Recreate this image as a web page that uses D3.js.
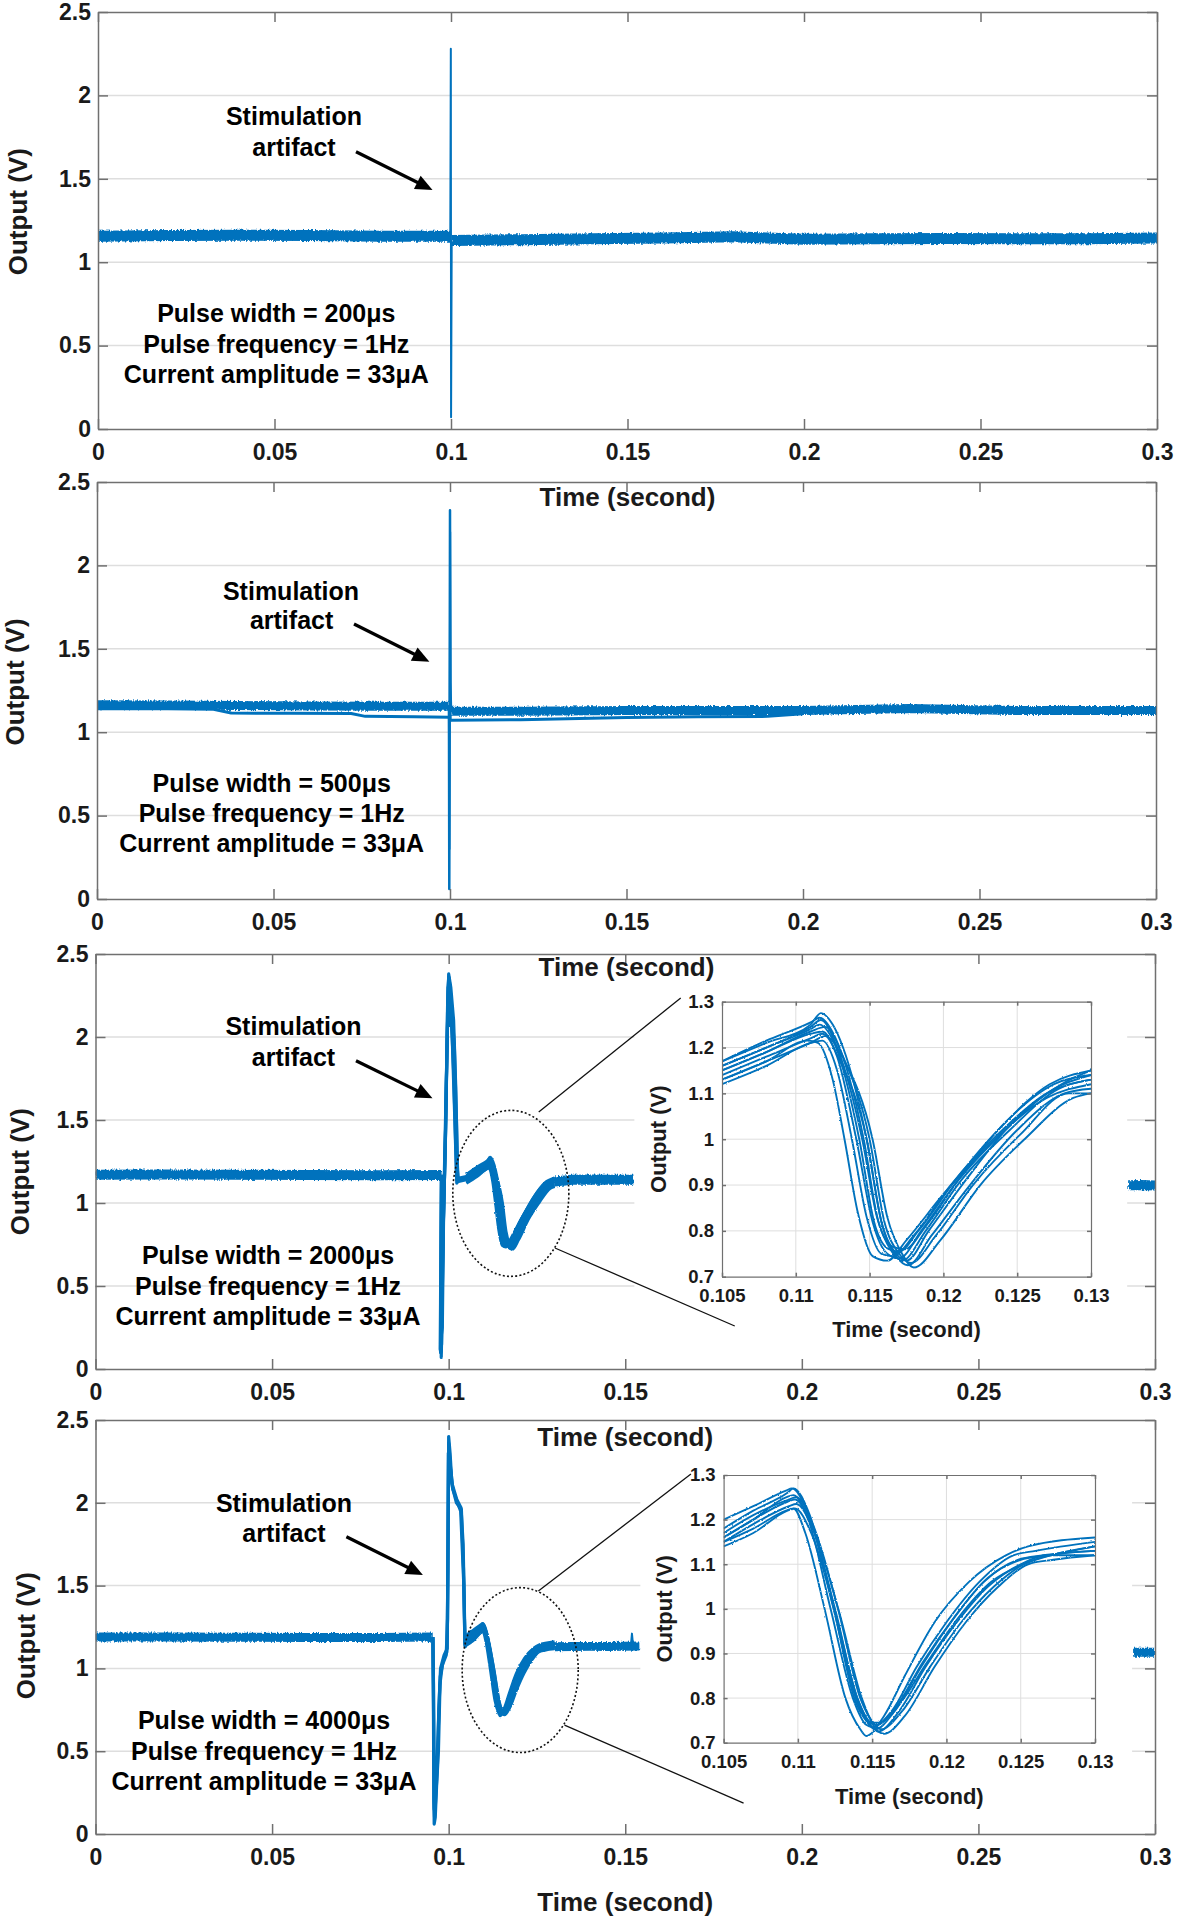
<!DOCTYPE html>
<html><head><meta charset="utf-8">
<script src="https://cdn.jsdelivr.net/npm/d3@7"></script>
<style>
body{margin:0;background:#fff;}
svg{display:block;}
</style></head><body>
<svg id="chart" width="1178" height="1920"></svg>
<script>
// ---------------- DATA ----------------
const xTickValues = [0, 0.05, 0.1, 0.15, 0.2, 0.25, 0.3];
const xTickLabels = ["0", "0.05", "0.1", "0.15", "0.2", "0.25", "0.3"];
const yTickValues = [0, 0.5, 1, 1.5, 2, 2.5];
const yTickLabels = ["0", "0.5", "1", "1.5", "2", "2.5"];
const insetXTickValues = [0.105, 0.11, 0.115, 0.12, 0.125, 0.13];
const insetXTickLabels = ["0.105", "0.11", "0.115", "0.12", "0.125", "0.13"];
const insetYTickValues = [0.7, 0.8, 0.9, 1.0, 1.1, 1.2, 1.3];
const insetYTickLabels = ["0.7", "0.8", "0.9", "1", "1.1", "1.2", "1.3"];
const xAxisTitle = "Time (second)";
const yAxisTitle = "Output (V)";
const pulseWidths = ["200μs", "500μs", "2000μs", "4000μs"];
const pulseFrequency = "1Hz";
const currentAmplitude = "33μA";
const artifactLabel = ["Stimulation", "artifact"];

// Panel 1 (200 us)
const p1BandPre = [[0,1.155],[0.02,1.16],[0.04,1.162],[0.06,1.16],[0.08,1.155],[0.0998,1.155]];
const p1BandPost = [[0.1002,1.13],[0.12,1.135],[0.14,1.14],[0.16,1.145],[0.18,1.152],[0.2,1.138],[0.22,1.14],[0.24,1.142],[0.26,1.14],[0.28,1.14],[0.3,1.145]];
const p1Spike = [[0.0998,1.155],[0.09995,2.28],[0.10002,0.07],[0.1002,1.13]];

// Panel 2 (500 us)
const p2BandPre = [[0,1.165],[0.02,1.163],[0.04,1.16],[0.06,1.157],[0.08,1.155],[0.0997,1.155]];
const p2LowerPre = [[0,1.14],[0.02,1.14],[0.033,1.138],[0.038,1.115],[0.055,1.113],[0.072,1.112],[0.076,1.095],[0.09,1.092],[0.0997,1.09]];
const p2BandPost = [[0.1003,1.125],[0.12,1.125],[0.15,1.13],[0.18,1.13],[0.2,1.13],[0.23,1.142],[0.26,1.13],[0.28,1.13],[0.3,1.13]];
const p2LowerPost = [[0.1003,1.072],[0.12,1.075],[0.15,1.088],[0.17,1.092],[0.19,1.095],[0.2,1.11]];
const p2SpikeA = [[0.0997,1.155],[0.0998,0.06],[0.0999,1.2],[0.1,2.33],[0.1001,1.3],[0.1003,1.12]];
const p2SpikeB = [[0.0997,1.09],[0.09985,0.3],[0.09995,1.1],[0.10005,2.2],[0.1002,1.07],[0.1004,1.072]];

// Panel 3 (2000 us)
const p3BandPre = [[0,1.17],[0.02,1.172],[0.04,1.17],[0.06,1.168],[0.08,1.167],[0.098,1.168]];
const p3ArtifactA = [[0.098,1.17],[0.0979,0.8],[0.0978,0.3],[0.0979,0.07],[0.0981,0.3],[0.0985,0.9],[0.099,1.3],[0.0995,1.9],[0.1,2.38],[0.1006,2.3],[0.1014,2.1],[0.102,1.7],[0.1024,1.3],[0.1026,1.13],[0.103,1.15],[0.105,1.16]];
const p3ArtifactB = [[0.098,1.16],[0.0978,0.5],[0.0977,0.1],[0.098,0.15],[0.0984,0.8],[0.0992,1.5],[0.0998,2.3],[0.1,2.35],[0.1004,2.07],[0.1008,2.1],[0.1014,1.8],[0.102,1.35],[0.1023,1.12],[0.103,1.14],[0.105,1.15]];
const p3ArtifactC = [[0.0981,1.16],[0.098,0.6],[0.0979,0.2],[0.0982,0.25],[0.0986,1.0],[0.0994,1.8],[0.0999,2.3],[0.1003,2.25],[0.101,2.0],[0.1016,1.6],[0.1021,1.25],[0.1023,1.14],[0.105,1.15]];
const p3ArtifactD = [[0.0979,1.17],[0.0977,0.4],[0.0976,0.12],[0.0978,0.1],[0.0983,0.7],[0.0991,1.4],[0.0997,2.2],[0.1001,2.36],[0.1007,2.22],[0.1016,1.95],[0.1022,1.5],[0.1025,1.2],[0.1028,1.13],[0.105,1.14]];
const p3TailLeft = [[0.13,1.13],[0.135,1.14],[0.14,1.142],[0.145,1.14],[0.1523,1.14]];
const p3TailRight = [[0.2924,1.107],[0.296,1.108],[0.3,1.106]];
const p3Responses = [
  [[0.105,1.13],[0.108,1.17],[0.1108,1.215],[0.1115,1.21],[0.1125,1.13],[0.1133,1.0],[0.1142,0.84],[0.1152,0.745],[0.1162,0.735],[0.1175,0.78],[0.12,0.88],[0.1235,1.0],[0.127,1.09],[0.13,1.12]],
  [[0.105,1.12],[0.108,1.16],[0.111,1.21],[0.1118,1.215],[0.1128,1.15],[0.1138,1.0],[0.1148,0.83],[0.1158,0.75],[0.1166,0.745],[0.118,0.79],[0.1205,0.9],[0.124,1.02],[0.127,1.1],[0.13,1.13]],
  [[0.105,1.15],[0.108,1.19],[0.111,1.23],[0.1118,1.235],[0.1128,1.18],[0.1141,1.0],[0.1152,0.82],[0.1162,0.75],[0.117,0.74],[0.1185,0.8],[0.121,0.91],[0.1242,1.02],[0.1275,1.11],[0.13,1.14]],
  [[0.105,1.16],[0.108,1.2],[0.111,1.245],[0.1117,1.26],[0.1128,1.2],[0.1145,1.0],[0.1155,0.83],[0.1165,0.755],[0.1172,0.735],[0.1188,0.8],[0.1212,0.91],[0.1245,1.02],[0.1278,1.11],[0.13,1.13]],
  [[0.105,1.17],[0.108,1.21],[0.111,1.25],[0.1117,1.275],[0.1125,1.25],[0.1132,1.2],[0.1148,1.0],[0.1158,0.82],[0.1168,0.75],[0.1175,0.735],[0.119,0.8],[0.1215,0.91],[0.1245,1.03],[0.128,1.12],[0.13,1.15]],
  [[0.105,1.14],[0.108,1.18],[0.111,1.22],[0.1118,1.23],[0.113,1.17],[0.1148,1.0],[0.1158,0.82],[0.1168,0.745],[0.1176,0.725],[0.1192,0.79],[0.1218,0.9],[0.125,1.02],[0.1282,1.1],[0.13,1.11]],
  [[0.105,1.15],[0.108,1.19],[0.111,1.235],[0.112,1.245],[0.1132,1.18],[0.115,1.0],[0.116,0.82],[0.117,0.75],[0.1178,0.73],[0.1195,0.79],[0.122,0.9],[0.1252,1.01],[0.1285,1.1],[0.13,1.1]],
  [[0.105,1.13],[0.108,1.17],[0.111,1.21],[0.112,1.225],[0.1133,1.17],[0.1152,1.0],[0.1162,0.83],[0.1172,0.75],[0.118,0.72],[0.1198,0.78],[0.1225,0.9],[0.1255,1.0],[0.1288,1.09],[0.13,1.1]],
  [[0.105,1.16],[0.108,1.2],[0.111,1.24],[0.1116,1.25],[0.1126,1.21],[0.1143,1.0],[0.1153,0.82],[0.1163,0.76],[0.117,0.755],[0.1183,0.8],[0.1208,0.91],[0.124,1.03],[0.1272,1.12],[0.13,1.15]],
  [[0.105,1.17],[0.108,1.215],[0.111,1.255],[0.1116,1.265],[0.1127,1.22],[0.1146,1.0],[0.1156,0.82],[0.1166,0.765],[0.1174,0.76],[0.1188,0.81],[0.1212,0.92],[0.1243,1.04],[0.1275,1.12],[0.13,1.14]]
];

// Panel 4 (4000 us)
const p4BandPre = [[0,1.19],[0.02,1.19],[0.04,1.188],[0.06,1.187],[0.08,1.187],[0.0955,1.19]];
const p4ArtifactA = [[0.0955,1.19],[0.0957,0.9],[0.0958,0.4],[0.0959,0.06],[0.0962,0.1],[0.0966,0.3],[0.0971,0.5],[0.0976,0.95],[0.0985,1.05],[0.0995,1.1],[0.0998,1.6],[0.1,2.4],[0.1004,2.3],[0.1009,2.12],[0.1023,2.02],[0.1035,1.97],[0.1041,1.75],[0.1045,1.3],[0.1047,1.13],[0.105,1.15]];
const p4ArtifactB = [[0.0955,1.18],[0.0957,0.7],[0.0958,0.2],[0.096,0.1],[0.0963,0.2],[0.0968,0.4],[0.0972,0.75],[0.0977,1.0],[0.0987,1.08],[0.0996,1.12],[0.0999,2.0],[0.1,2.36],[0.1005,2.22],[0.1012,2.08],[0.1025,2.0],[0.1034,1.95],[0.1043,1.5],[0.1046,1.14],[0.105,1.16]];
const p4ArtifactC = [[0.0956,1.19],[0.0958,0.6],[0.0959,0.15],[0.0961,0.2],[0.0965,0.35],[0.097,0.6],[0.0975,0.9],[0.0982,1.02],[0.0993,1.08],[0.0997,1.3],[0.0999,2.3],[0.1003,2.25],[0.101,2.1],[0.1022,2.0],[0.1036,1.96],[0.1042,1.6],[0.1046,1.15],[0.105,1.17]];
const p4TailLeft = [[0.13,1.13],[0.135,1.132],[0.14,1.133],[0.145,1.133],[0.154,1.135]];
const p4SmallSpike = [[0.1516,1.14],[0.1519,1.21],[0.1522,1.14]];
const p4TailRight = [[0.2938,1.097],[0.297,1.098],[0.3,1.097]];
const p4Responses = [
  [[0.105,1.15],[0.107,1.18],[0.1092,1.22],[0.1097,1.225],[0.1105,1.17],[0.1118,1.0],[0.1132,0.8],[0.1142,0.73],[0.1146,0.715],[0.1158,0.76],[0.1172,0.85],[0.1192,0.97],[0.1215,1.06],[0.124,1.12],[0.1255,1.14],[0.13,1.16]],
  [[0.105,1.16],[0.107,1.2],[0.1092,1.25],[0.1097,1.255],[0.1107,1.2],[0.1122,1.0],[0.1137,0.8],[0.1146,0.74],[0.115,0.735],[0.1163,0.77],[0.118,0.87],[0.12,0.97],[0.1222,1.06],[0.1245,1.12],[0.126,1.13],[0.13,1.15]],
  [[0.105,1.18],[0.107,1.22],[0.1093,1.26],[0.1097,1.27],[0.1108,1.21],[0.1124,1.0],[0.1139,0.8],[0.1148,0.74],[0.1152,0.73],[0.1165,0.77],[0.1183,0.87],[0.1203,0.97],[0.1225,1.06],[0.1248,1.11],[0.1265,1.12],[0.13,1.13]],
  [[0.105,1.14],[0.107,1.17],[0.1093,1.22],[0.1098,1.225],[0.1109,1.17],[0.1126,0.98],[0.114,0.8],[0.115,0.735],[0.1154,0.725],[0.1168,0.77],[0.1186,0.87],[0.1207,0.97],[0.1228,1.05],[0.125,1.1],[0.1268,1.12],[0.13,1.12]],
  [[0.105,1.17],[0.107,1.21],[0.1094,1.245],[0.1099,1.25],[0.111,1.19],[0.1127,1.0],[0.1142,0.8],[0.1152,0.74],[0.1156,0.73],[0.117,0.77],[0.1189,0.87],[0.121,0.97],[0.1232,1.05],[0.1252,1.1],[0.127,1.12],[0.13,1.13]],
  [[0.105,1.2],[0.107,1.23],[0.1092,1.265],[0.1096,1.27],[0.1106,1.22],[0.1123,1.02],[0.1138,0.8],[0.1148,0.745],[0.1153,0.74],[0.1166,0.78],[0.1184,0.88],[0.1205,0.98],[0.1228,1.07],[0.125,1.11],[0.1268,1.12],[0.13,1.14]],
  [[0.105,1.15],[0.107,1.19],[0.1094,1.23],[0.1099,1.235],[0.111,1.18],[0.1128,0.99],[0.1143,0.8],[0.1154,0.725],[0.1158,0.72],[0.1172,0.76],[0.1192,0.87],[0.1213,0.97],[0.1235,1.05],[0.1255,1.1],[0.1272,1.11],[0.13,1.12]],
  [[0.105,1.16],[0.107,1.2],[0.1093,1.24],[0.1098,1.245],[0.1109,1.19],[0.1125,1.0],[0.114,0.8],[0.115,0.745],[0.1155,0.745],[0.1168,0.785],[0.1187,0.88],[0.1208,0.98],[0.123,1.06],[0.1252,1.1],[0.127,1.12],[0.13,1.14]]
];

// ---------------- STYLE / LAYOUT ----------------
const FONT = '"Liberation Sans", Arial, Helvetica, sans-serif';
const BLUE = "#0072BD";
const GRID = "#dedede";
const AXIS = "#707070";
const TEXT = "#1a1a1a";

const panels = [
  { left: 98, right: 1157, top: 12, bottom: 429, yLab: [18.4, 211.7],
    bands: [[p1BandPre, 11], [p1BandPost, 11]], thin: [[p1Spike, 2]], resp: [],
    ann: { stim: [196, 104.3], art: [196, 135], arrow: [[258, 139.7], [334.5, 178]], pulseX: 178.3, pulseY: [301.3, 331.7, 362] } },
  { left: 97, right: 1156, top: 482, bottom: 899, yLab: [15.3, 682],
    bands: [[p2BandPre, 9], [p2BandPost, 9]], thin: [[p2LowerPre, 3], [p2LowerPost, 3], [p2SpikeA, 2.5], [p2SpikeB, 2]], resp: [],
    ann: { stim: [194, 108.7], art: [194.6, 138], arrow: [[257, 142], [332.4, 179.7]], pulseX: 174.7, pulseY: [301.3, 330.7, 361.3] } },
  { left: 95.5, right: 1155, top: 954, bottom: 1369, yLab: [20, 1171.7],
    bands: [[p3BandPre, 10], [p3TailLeft, 10], [p3TailRight, 10]], thin: [[p3ArtifactA, 3.2], [p3ArtifactB, 3.2], [p3ArtifactC, 3.2], [p3ArtifactD, 3.2]], resp: p3Responses,
    occlude: [0.1523, 0.2924],
    ellipse: { c: [0.1176, 1.058], rx: 0.01643, ry: 0.5 },
    connectors: [[[0.1255, 1.548], [0.1657, 2.235]], [[0.1301, 0.729], [0.181, 0.259]]],
    ann: { stim: [198, 72], art: [198, 102.7], arrow: [[260.5, 106.7], [337, 144.3]], pulseX: 172.5, pulseY: [301, 331.7, 362] } },
  { left: 95.5, right: 1155, top: 1420, bottom: 1834, yLab: [25.6, 1635.7],
    bands: [[p4BandPre, 9], [p4TailLeft, 9], [p4TailRight, 9]], thin: [[p4ArtifactA, 3.2], [p4ArtifactB, 3.2], [p4ArtifactC, 3.2], [p4SmallSpike, 2]], resp: p4Responses,
    occlude: [0.154, 0.2938],
    ellipse: { c: [0.12025, 0.99], rx: 0.01643, ry: 0.498 },
    connectors: [[[0.1254, 1.467], [0.1686, 2.174]], [[0.1328, 0.658], [0.1835, 0.187]]],
    ann: { stim: [188.5, 83.3], art: [188.5, 112.7], arrow: [[250.9, 116.7], [327.4, 155]], pulseX: 168.5, pulseY: [300, 330.7, 361] } }
];

const insets = [
  { panel: 2, left: 722, right: 1091, top: 1001.7, bottom: 1276.7, traces: p3Responses, yLabDx: -63.5, xLabDy: 52.6 },
  { panel: 3, left: 723.6, right: 1095, top: 1475, bottom: 1742.7, traces: p4Responses, yLabDx: -59, xLabDy: 54 }
];

// ---------------- DRAW ----------------
const svg = d3.select("#chart");
svg.append("rect").attr("width", 1178).attr("height", 1920).attr("fill", "#fff");
const defs = svg.append("defs");
function addRough(id, freq, scale, seed) {
  const f = defs.append("filter").attr("id", id).attr("filterUnits", "userSpaceOnUse")
    .attr("x", 0).attr("y", 0).attr("width", 1178).attr("height", 1920);
  f.append("feTurbulence").attr("type", "fractalNoise").attr("baseFrequency", freq)
    .attr("numOctaves", 2).attr("seed", seed).attr("result", "n");
  f.append("feDisplacementMap").attr("in", "SourceGraphic").attr("in2", "n").attr("scale", scale)
    .attr("xChannelSelector", "R").attr("yChannelSelector", "G");
}
addRough("rough", "0.7 0.25", 4, 4);
addRough("jitter", "0.5 0.5", 2.2, 7);

const mkLine = (x, y, curve) => d3.line().x(d => x(d[0])).y(d => y(d[1])).curve(curve || d3.curveLinear);

function styleAxis(g, size) {
  g.attr("font-family", FONT).attr("font-size", size).attr("font-weight", "bold");
  g.selectAll(".domain, .tick line").attr("stroke", AXIS).attr("stroke-width", 1.5);
  g.selectAll("text").attr("fill", TEXT);
}

function arrow(g, s, t) {
  const dx = t[0] - s[0], dy = t[1] - s[1];
  const L = Math.hypot(dx, dy), ux = dx / L, uy = dy / L, nx = -uy, ny = ux;
  const hl = 17, hw = 7.5;
  const bx = t[0] - ux * hl, by = t[1] - uy * hl;
  g.append("line").attr("x1", s[0]).attr("y1", s[1]).attr("x2", bx + ux * 2).attr("y2", by + uy * 2)
    .attr("stroke", "#000").attr("stroke-width", 3.2);
  g.append("polygon").attr("points", [[t[0], t[1]], [bx + nx * hw, by + ny * hw], [bx - nx * hw, by - ny * hw]].map(p => p.join(",")).join(" "))
    .attr("fill", "#000");
}

const topLayer = [];
const scales = [];

panels.forEach((p, i) => {
  const x = d3.scaleLinear().domain([0, 0.3]).range([p.left, p.right]);
  const y = d3.scaleLinear().domain([0, 2.5]).range([p.bottom, p.top]);
  scales.push({ x, y });
  const g = svg.append("g");
  g.append("g").selectAll("line").data(yTickValues.filter(v => v > 0 && v < 2.5)).join("line")
    .attr("x1", p.left).attr("x2", p.right).attr("y1", d => y(d)).attr("y2", d => y(d))
    .attr("stroke", GRID).attr("stroke-width", 1.5);
  defs.append("clipPath").attr("id", "clip" + i).append("rect")
    .attr("x", p.left).attr("y", p.top).attr("width", p.right - p.left).attr("height", p.bottom - p.top);
  const tg = g.append("g").attr("clip-path", `url(#clip${i})`);
  const ln = mkLine(x, y);
  p.bands.forEach(([data, w]) => {
    tg.append("path").datum(data).attr("d", ln).attr("fill", "none").attr("stroke", BLUE)
      .attr("stroke-width", w).attr("filter", "url(#rough)");
  });
  const lnR = mkLine(x, y, d3.curveMonotoneX);
  const rg = tg.append("g").attr("filter", "url(#jitter)");
  p.resp.forEach(tr => {
    rg.append("path").datum(tr).attr("d", lnR).attr("fill", "none").attr("stroke", BLUE).attr("stroke-width", 3.2);
  });
  p.thin.forEach(([data, w]) => {
    tg.append("path").datum(data).attr("d", ln).attr("fill", "none").attr("stroke", BLUE)
      .attr("stroke-width", w).attr("stroke-linejoin", "round");
  });
  if (p.occlude) {
    g.append("rect").attr("x", x(p.occlude[0]) + 1).attr("y", p.top + 11)
      .attr("width", x(p.occlude[1]) - x(p.occlude[0]) - 2).attr("height", p.bottom - p.top - 22).attr("fill", "#fff");
  }
  const gb = g.append("g").attr("transform", `translate(0,${p.bottom})`)
    .call(d3.axisBottom(x).tickValues(xTickValues).tickFormat((d, k) => xTickLabels[k]).tickSizeInner(-10).tickSizeOuter(0).tickPadding(15));
  const gt = g.append("g").attr("transform", `translate(0,${p.top})`)
    .call(d3.axisTop(x).tickValues(xTickValues).tickFormat(() => "").tickSizeInner(-10).tickSizeOuter(0));
  const gl = g.append("g").attr("transform", `translate(${p.left},0)`)
    .call(d3.axisLeft(y).tickValues(yTickValues).tickFormat((d, k) => yTickLabels[k]).tickSizeInner(-10).tickSizeOuter(0).tickPadding(7));
  const gr = g.append("g").attr("transform", `translate(${p.right},0)`)
    .call(d3.axisRight(y).tickValues(yTickValues).tickFormat(() => "").tickSizeInner(-10).tickSizeOuter(0));
  [gb, gt, gl, gr].forEach(a => styleAxis(a, 23));
  g.append("text").attr("transform", `translate(${p.yLab[0]},${p.yLab[1]}) rotate(-90)`)
    .attr("text-anchor", "middle").attr("dominant-baseline", "central")
    .attr("font-family", FONT).attr("font-weight", "bold").attr("font-size", 26).attr("fill", TEXT).text(yAxisTitle);
  topLayer.push({ x: (p.left + p.right) / 2, y: p.bottom + 68 });
});

insets.forEach((ins, j) => {
  const x = d3.scaleLinear().domain([0.105, 0.13]).range([ins.left, ins.right]);
  const y = d3.scaleLinear().domain([0.7, 1.3]).range([ins.bottom, ins.top]);
  const g = svg.append("g");
  g.append("rect").attr("x", ins.left).attr("y", ins.top).attr("width", ins.right - ins.left).attr("height", ins.bottom - ins.top).attr("fill", "#fff");
  g.append("g").selectAll("line").data(insetXTickValues.slice(1, -1)).join("line")
    .attr("x1", d => x(d)).attr("x2", d => x(d)).attr("y1", ins.top).attr("y2", ins.bottom)
    .attr("stroke", GRID).attr("stroke-width", 1);
  g.append("g").selectAll("line").data(insetYTickValues.slice(1, -1)).join("line")
    .attr("y1", d => y(d)).attr("y2", d => y(d)).attr("x1", ins.left).attr("x2", ins.right)
    .attr("stroke", GRID).attr("stroke-width", 1);
  defs.append("clipPath").attr("id", "iclip" + j).append("rect")
    .attr("x", ins.left).attr("y", ins.top).attr("width", ins.right - ins.left).attr("height", ins.bottom - ins.top);
  const tg = g.append("g").attr("clip-path", `url(#iclip${j})`).append("g").attr("filter", "url(#jitter)");
  const ln = mkLine(x, y, d3.curveMonotoneX);
  ins.traces.forEach(tr => {
    tg.append("path").datum(tr).attr("d", ln).attr("fill", "none").attr("stroke", BLUE).attr("stroke-width", 1.9);
  });
  const gb = g.append("g").attr("transform", `translate(0,${ins.bottom})`)
    .call(d3.axisBottom(x).tickValues(insetXTickValues).tickFormat((d, k) => insetXTickLabels[k]).tickSizeInner(-4).tickSizeOuter(0).tickPadding(12));
  const gt = g.append("g").attr("transform", `translate(0,${ins.top})`)
    .call(d3.axisTop(x).tickValues(insetXTickValues).tickFormat(() => "").tickSizeInner(-4).tickSizeOuter(0));
  const gl = g.append("g").attr("transform", `translate(${ins.left},0)`)
    .call(d3.axisLeft(y).tickValues(insetYTickValues).tickFormat((d, k) => insetYTickLabels[k]).tickSizeInner(-4).tickSizeOuter(0).tickPadding(8));
  const gr = g.append("g").attr("transform", `translate(${ins.right},0)`)
    .call(d3.axisRight(y).tickValues(insetYTickValues).tickFormat(() => "").tickSizeInner(-4).tickSizeOuter(0));
  [gb, gt, gl, gr].forEach(a => styleAxis(a, 18.5));
  [gb, gt, gl, gr].forEach(a => a.selectAll(".domain").attr("stroke-width", 1.2));
  g.append("text").attr("transform", `translate(${ins.left + ins.yLabDx},${(ins.top + ins.bottom) / 2}) rotate(-90)`)
    .attr("text-anchor", "middle").attr("dominant-baseline", "central")
    .attr("font-family", FONT).attr("font-weight", "bold").attr("font-size", 22).attr("fill", TEXT).text(yAxisTitle);
  g.append("text").attr("x", (ins.left + ins.right) / 2).attr("y", ins.bottom + ins.xLabDy)
    .attr("text-anchor", "middle").attr("dominant-baseline", "central")
    .attr("font-family", FONT).attr("font-weight", "bold").attr("font-size", 22).attr("fill", TEXT).text(xAxisTitle);
});

panels.forEach((p, i) => {
  const { x, y } = scales[i];
  const g = svg.append("g").attr("font-family", FONT).attr("font-weight", "bold").attr("fill", "#000");
  if (p.ellipse) {
    const e = p.ellipse;
    g.append("ellipse").attr("cx", x(e.c[0])).attr("cy", y(e.c[1]))
      .attr("rx", x(e.c[0] + e.rx) - x(e.c[0])).attr("ry", y(e.c[1]) - y(e.c[1] + e.ry))
      .attr("fill", "none").attr("stroke", "#111").attr("stroke-width", 1.6).attr("stroke-dasharray", "2,2.2");
    p.connectors.forEach(([a, b]) => {
      g.append("line").attr("x1", x(a[0])).attr("y1", y(a[1])).attr("x2", x(b[0])).attr("y2", y(b[1]))
        .attr("stroke", "#111").attr("stroke-width", 1.3);
    });
  }
  const a = p.ann, ox = p.left, oy = p.top;
  g.append("text").attr("x", ox + a.stim[0]).attr("y", oy + a.stim[1]).attr("text-anchor", "middle")
    .attr("dominant-baseline", "central").attr("font-size", 25).text(artifactLabel[0]);
  g.append("text").attr("x", ox + a.art[0]).attr("y", oy + a.art[1]).attr("text-anchor", "middle")
    .attr("dominant-baseline", "central").attr("font-size", 25).text(artifactLabel[1]);
  arrow(g, [ox + a.arrow[0][0], oy + a.arrow[0][1]], [ox + a.arrow[1][0], oy + a.arrow[1][1]]);
  const lines = [`Pulse width = ${pulseWidths[i]}`, `Pulse frequency = ${pulseFrequency}`, `Current amplitude = ${currentAmplitude}`];
  lines.forEach((t, k) => {
    g.append("text").attr("x", ox + a.pulseX).attr("y", oy + a.pulseY[k]).attr("text-anchor", "middle")
      .attr("dominant-baseline", "central").attr("font-size", 25).text(t);
  });
});

topLayer.forEach(t => {
  svg.append("text").attr("x", t.x).attr("y", t.y).attr("text-anchor", "middle").attr("dominant-baseline", "central")
    .attr("font-family", FONT).attr("font-weight", "bold").attr("font-size", 26).attr("fill", TEXT).text(xAxisTitle);
});
</script>
</body></html>
